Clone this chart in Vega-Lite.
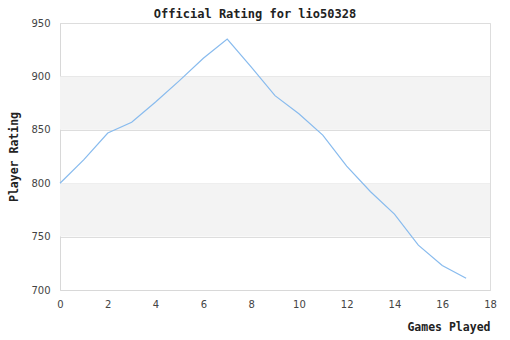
{
  "$schema": "https://vega.github.io/schema/vega-lite/v6.json",
  "width": 430,
  "height": 267,
  "autosize": {"type": "none"},
  "padding": {"left": 60, "top": 23, "right": 20, "bottom": 50},
  "background": "white",
  "config": {
    "view": {"stroke": "#dddddd", "strokeWidth": 1},
    "axis": {
      "labelFont": "DejaVu Sans",
      "labelFontSize": 10,
      "labelColor": "#444444",
      "titleFont": "DejaVu Sans Mono",
      "titleFontSize": 11.5,
      "titleFontWeight": "bold",
      "titleColor": "#222222",
      "domainColor": "#d8d8d8",
      "gridColor": "#dddddd",
      "ticks": false
    }
  },
  "title": {
    "text": "Official Rating for lio50328",
    "font": "DejaVu Sans Mono",
    "fontSize": 12,
    "fontWeight": "bold",
    "color": "#222222",
    "anchor": "middle",
    "frame": "group",
    "dx": -20,
    "offset": -3
  },
  "datasets": {
    "bands": [
      {"lo": 750, "hi": 800},
      {"lo": 850, "hi": 900}
    ],
    "ratings": [
      {"game": 0, "rating": 800},
      {"game": 1, "rating": 822},
      {"game": 2, "rating": 847},
      {"game": 3, "rating": 857},
      {"game": 4, "rating": 876},
      {"game": 5, "rating": 896},
      {"game": 6, "rating": 917},
      {"game": 7, "rating": 935},
      {"game": 8, "rating": 909},
      {"game": 9, "rating": 882},
      {"game": 10, "rating": 865},
      {"game": 11, "rating": 845},
      {"game": 12, "rating": 816},
      {"game": 13, "rating": 792},
      {"game": 14, "rating": 771},
      {"game": 15, "rating": 742},
      {"game": 16, "rating": 723},
      {"game": 17, "rating": 711}
    ]
  },
  "layer": [
    {
      "data": {"name": "bands"},
      "mark": {"type": "rect", "color": "#f3f3f3"},
      "encoding": {
        "y": {"field": "lo", "type": "quantitative", "scale": {"domain": [700, 950], "nice": false}},
        "y2": {"field": "hi"}
      }
    },
    {
      "data": {"name": "ratings"},
      "mark": {"type": "line", "color": "#88bbee", "strokeWidth": 1.2},
      "encoding": {
        "x": {
          "field": "game", "type": "quantitative",
          "scale": {"domain": [0, 18], "nice": false},
          "axis": {"title": "Games Played", "values": [0,2,4,6,8,10,12,14,16,18], "grid": false, "labelFlush": false, "labelPadding": 9, "titleAnchor": "end", "titleAlign": "right", "titlePadding": 12}
        },
        "y": {
          "field": "rating", "type": "quantitative",
          "scale": {"domain": [700, 950], "nice": false},
          "axis": {"title": "Player Rating", "values": [700,750,800,850,900,950], "labelFlush": false, "labelPadding": 10, "titlePadding": 11}
        }
      }
    }
  ]
}
